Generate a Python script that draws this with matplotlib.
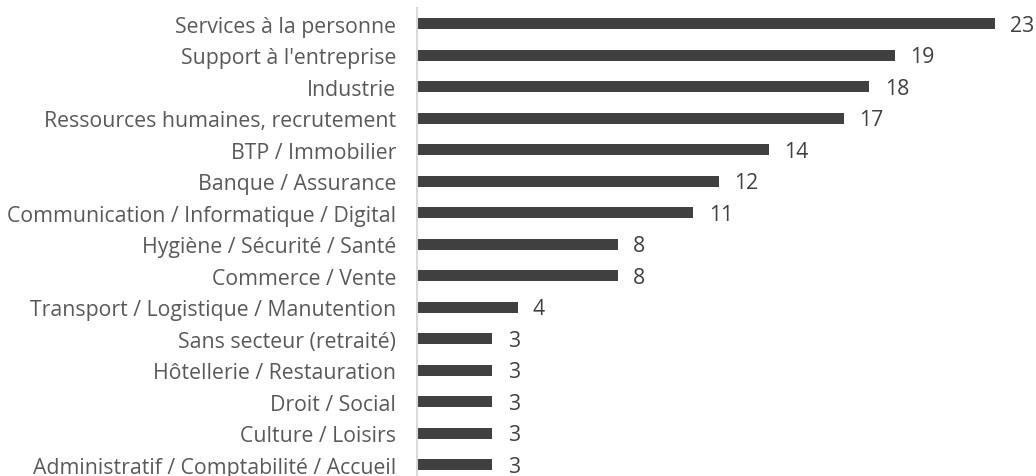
import matplotlib
matplotlib.use('Agg')
import matplotlib.pyplot as plt

# sectors, top to bottom
secteurs = [
  "Services à la personne",
  "Support à l'entreprise",
  "Industrie",
  "Ressources humaines, recrutement",
  "BTP / Immobilier",
  "Banque / Assurance",
  "Communication / Informatique / Digital",
  "Hygiène / Sécurité / Santé",
  "Commerce / Vente",
  "Transport / Logistique / Manutention",
  "Sans secteur (retraité)",
  "Hôtellerie / Restauration",
  "Droit / Social",
  "Culture / Loisirs",
  "Administratif / Comptabilité / Accueil",
]
effectifs = [23, 19, 18, 17, 14, 12, 11, 8, 8, 4, 3, 3, 3, 3, 3]

plt.rcParams['font.family'] = ['Open Sans', 'DejaVu Sans']

fig = plt.figure(figsize=(10.36, 4.77), dpi=100)
ax = fig.add_axes([0.4025, -0.0094, 0.558, 0.9906])

pos = list(range(len(secteurs)))
ax.barh(pos, effectifs, height=0.35, color='#404040')
ax.set_ylim(len(secteurs) - 0.5, -0.5)
ax.set_xlim(0, 23)

ax.set_yticks(pos)
ax.set_yticklabels(secteurs, fontsize=15.3, color='#595959')
ax.tick_params(axis='y', length=0, pad=15)
ax.set_xticks([])

for s in ['top', 'right', 'bottom']:
  ax.spines[s].set_visible(False)
ax.spines['left'].set_color('#d9d9d9')
ax.spines['left'].set_linewidth(1.5)

# value labels, a touch below the bar centre like the original
for i, v in enumerate(effectifs):
  ax.annotate(str(v), xy=(v, i), xytext=(11, -1.2), textcoords='offset points',
              va='center', ha='left', fontsize=15.3, color='#404040',
              annotation_clip=False)

fig.savefig('out.png', dpi=100)
